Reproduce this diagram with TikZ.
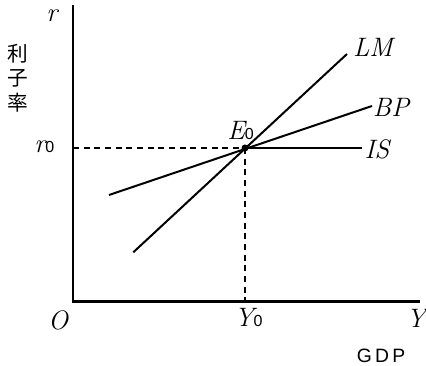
\documentclass[tikz,border=0pt]{standalone}
\usepackage{fontspec}
\newfontfamily\cjkfont{Noto Sans CJK JP}
\newfontfamily\sansfont{Liberation Sans}
\newcommand{\zsub}[1]{{\sansfont\upshape\fontsize{12}{12}\selectfont #1}}
\begin{document}
\begin{tikzpicture}[x=0.75pt,y=-0.75pt,
  axis/.style={line width=1.6pt},
  curve/.style={line width=1.5pt},
  guide/.style={line width=1.3pt,dash pattern=on 4.5pt off 3.5pt},
  lab/.style={inner sep=0pt,font=\fontsize{20}{20}\selectfont\itshape},
  gdp/.style={inner sep=0pt,font=\sansfont\fontsize{14.5}{14.5}\selectfont},
  cjk/.style={inner sep=0pt,font=\cjkfont\fontsize{15.5}{15.5}\selectfont}]
\useasboundingbox (0,0) rectangle (426,366);
% axes
\coordinate (top) at (73,5);
\coordinate (orig) at (73,301.5);
\coordinate (xend) at (420,301.5);
\draw[axis] (top) -- (orig) -- (xend);
% equilibrium
\coordinate (E) at (245,148);
\coordinate (rax) at (73,148);
\coordinate (yax) at (245,301.5);
\draw[guide] (rax) -- (E);
\draw[guide] (E) -- (yax);
% curves
\coordinate (lm1) at (133.3,252.3);
\coordinate (lm2) at (347,54);
\coordinate (bp1) at (109,195);
\coordinate (bp2) at (372,106);
\coordinate (is2) at (362,148);
\draw[curve] (lm1) -- (lm2);
\draw[curve] (bp1) -- (bp2);
\draw[curve] (E) -- (is2);
\fill (E) circle (3.5);
% labels
\node[lab] (rlab) at (52,16) {r};
\node[lab,anchor=base west] (r0lab) at (34,153) {r\zsub{0}};
\node[lab,anchor=base west] (E0lab) at (227,140) {E\zsub{0}};
\node[lab] (Olab) at (58,320) {O};
\node[lab,anchor=base west] (Y0lab) at (234,327) {Y\zsub{0}};
\node[lab] (Ylab) at (416,318) {Y};
\node[lab] (LMlab) at (373,47) {LM};
\node[lab] (BPlab) at (391,107) {BP};
\node[lab] (ISlab) at (377,149) {IS};
\node[gdp] (gdplab) at (381,356) {G\hspace{2.4pt}D\hspace{2.4pt}P};
\node[cjk] (c1) at (17.5,54) {利};
\node[cjk] (c2) at (17.5,78.5) {子};
\node[cjk] (c3) at (17.5,103) {率};
\end{tikzpicture}
\end{document}
